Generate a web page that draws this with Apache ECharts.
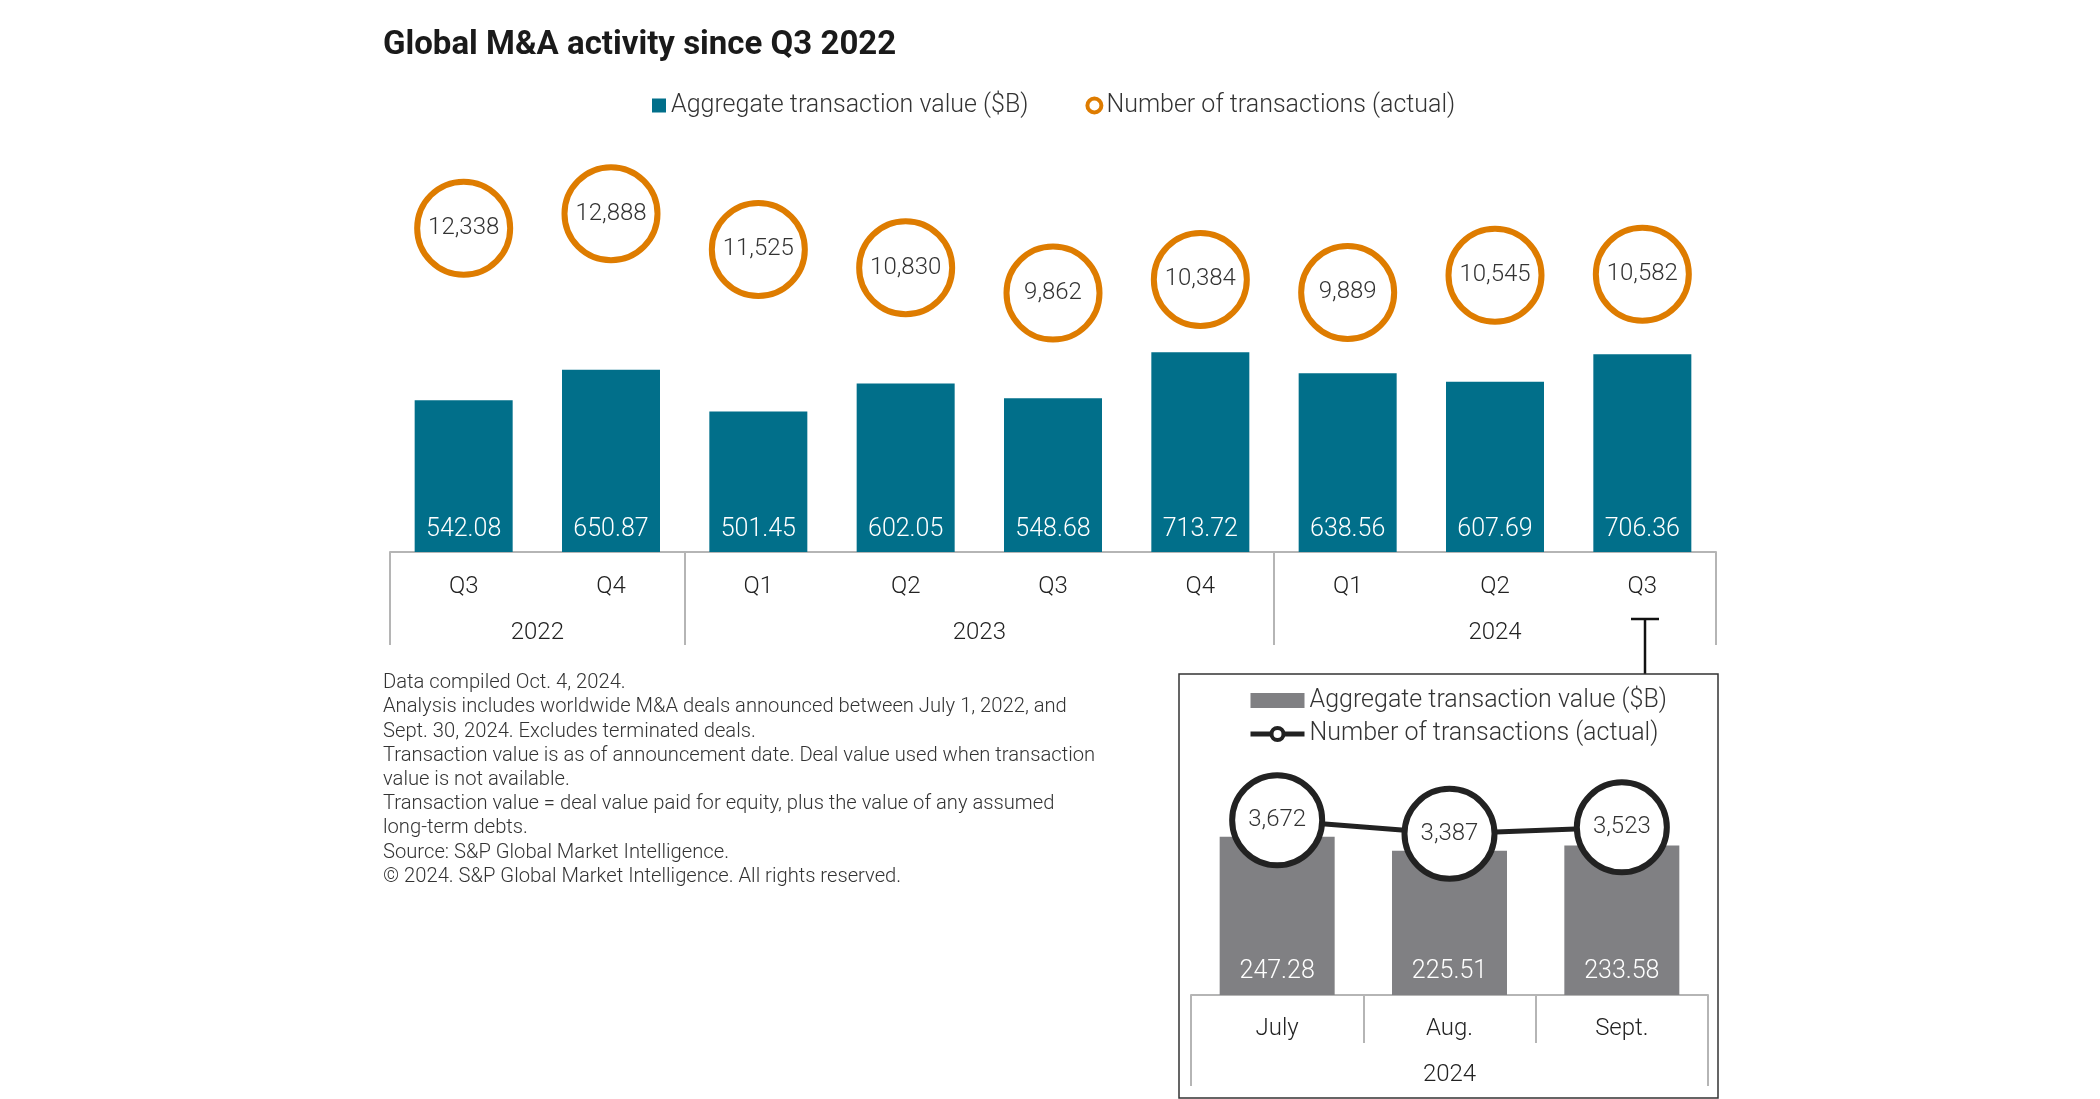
<!DOCTYPE html>
<html>
<head>
<meta charset="utf-8">
<script src="https://cdn.jsdelivr.net/npm/echarts@6/dist/echarts.min.js"></script>
<style>
html,body{margin:0;padding:0;background:#fff;}
#c{width:2100px;height:1099px;}
</style>
</head>
<body>
<div id="c"></div>
<script>
// ---------- data ----------
const quarters = ['Q3','Q4','Q1','Q2','Q3','Q4','Q1','Q2','Q3'];
const years = ['2022','2023','2024'];
const yearSpans = [2,4,3];
const aggValue = [542.08,650.87,501.45,602.05,548.68,713.72,638.56,607.69,706.36];
const txCount = [12338,12888,11525,10830,9862,10384,9889,10545,10582];

const months = ['July','Aug.','Sept.'];
const insetYear = ['2024'];
const monthValue = [247.28,225.51,233.58];
const monthCount = [3672,3387,3523];

const title = 'Global M&A activity since Q3 2022';
const seriesNames = ['Aggregate transaction value ($B)','Number of transactions (actual)'];
const footnotes = [
  'Data compiled Oct. 4, 2024.',
  'Analysis includes worldwide M&A deals announced between July 1, 2022, and',
  'Sept. 30, 2024. Excludes terminated deals.',
  'Transaction value is as of announcement date. Deal value used when transaction',
  'value is not available.',
  'Transaction value = deal value paid for equity, plus the value of any assumed',
  'long-term debts.',
  'Source: S&P Global Market Intelligence.',
  '\u00A9 2024. S&P Global Market Intelligence. All rights reserved.'
];

// ---------- derived helpers ----------
const bounds = [0];
yearSpans.forEach(s => bounds.push(bounds[bounds.length-1] + s));
const yearCenters = yearSpans.map((s,i) => bounds[i] + s/2);
const insetBounds = [0, months.length];
const insetCenters = [months.length/2];

const TEAL = '#016F8A', ORANGE = '#DE7C00', GRAY = '#808083', DARK = '#222222';
const AXIS_GRAY = '#b5b5b5';
const FONT = 'Roboto';
const fmt = v => Number(v).toLocaleString('en-US');
const INSET = 'inset:';

const chart = echarts.init(document.getElementById('c'));
chart.setOption({
  backgroundColor: '#fff',
  textStyle: {fontFamily: FONT},
  animation: false,
  title: [
    {text: title, left: 383, top: 29, padding: 0,
     textStyle: {fontFamily: FONT, fontSize: 33, fontWeight: 'bold', color: '#1a1a1a'}},
    {text: footnotes.join('\n'), left: 383, top: 671, padding: 0,
     textStyle: {fontFamily: FONT, fontSize: 20.2, fontWeight: 300, color: '#333', lineHeight: 24.2}}
  ],
  legend: [
    {left: 652, top: 93, padding: 0, itemGap: 57, itemWidth: 14, itemHeight: 14,
     selectedMode: false,
     textStyle: {fontFamily: FONT, fontSize: 25, fontWeight: 300, color: '#333'},
     data: [
       {name: seriesNames[0], icon: 'rect'},
       {name: seriesNames[1], icon: 'circle', itemStyle: {color: '#fff', borderColor: ORANGE, borderWidth: 4}}
     ]},
    {left: 1248, top: 688, padding: 0, orient: 'vertical', itemGap: 8.5, itemWidth: 54, itemHeight: 15,
     selectedMode: false,
     formatter: n => n.replace(INSET, ''),
     textStyle: {fontFamily: FONT, fontSize: 25, fontWeight: 300, color: '#333'},
     data: [
       {name: INSET + seriesNames[0], icon: 'rect'},
       {name: INSET + seriesNames[1], itemStyle: {color: '#fff', borderColor: DARK, borderWidth: 4},
        lineStyle: {color: DARK, width: 5}}
     ]}
  ],
  grid: [
    {left: 390, top: 132, width: 1326, height: 420},
    {left: 1191, top: 739, width: 517, height: 256}
  ],
  xAxis: [
    {type: 'category', gridIndex: 0, data: quarters,
     axisLine: {lineStyle: {color: AXIS_GRAY, width: 2}},
     axisTick: {show: false},
     axisLabel: {margin: 23, fontSize: 24, fontWeight: 300, color: '#222'}},
    {type: 'value', gridIndex: 0, min: 0, max: bounds[bounds.length-1], position: 'bottom',
     axisLine: {show: false}, splitLine: {show: false},
     axisTick: {show: true, customValues: bounds, length: 93, lineStyle: {color: AXIS_GRAY, width: 2}},
     axisLabel: {customValues: yearCenters, margin: 69, fontSize: 24, fontWeight: 300, color: '#222',
                 formatter: v => years[yearCenters.indexOf(v)] || ''}},
    {type: 'category', gridIndex: 1, data: months,
     axisLine: {lineStyle: {color: AXIS_GRAY, width: 2}},
     axisTick: {show: true, length: 48, interval: 0, lineStyle: {color: AXIS_GRAY, width: 2}},
     axisLabel: {margin: 22, fontSize: 24, fontWeight: 300, color: '#222'}},
    {type: 'value', gridIndex: 1, min: 0, max: months.length, position: 'bottom',
     axisLine: {show: false}, splitLine: {show: false},
     axisTick: {show: true, customValues: insetBounds, length: 91, lineStyle: {color: AXIS_GRAY, width: 2}},
     axisLabel: {customValues: insetCenters, margin: 68, fontSize: 24, fontWeight: 300, color: '#222',
                 formatter: v => insetYear[insetCenters.indexOf(v)] || ''}}
  ],
  yAxis: [
    {type: 'value', gridIndex: 0, min: 0, max: 1500, show: false},
    {type: 'value', gridIndex: 0, min: 0, max: 16000, show: false},
    {type: 'value', gridIndex: 1, min: 0, max: 400, show: false},
    {type: 'value', gridIndex: 1, min: 0, max: 5380, show: false}
  ],
  series: [
    {name: seriesNames[0], type: 'bar', xAxisIndex: 0, yAxisIndex: 0, data: aggValue,
     barWidth: 98, itemStyle: {color: TEAL},
     label: {show: true, position: 'insideBottom', distance: 10, color: '#fff',
             fontSize: 25, fontWeight: 300, fontFamily: FONT}},
    {name: seriesNames[1], type: 'scatter', xAxisIndex: 0, yAxisIndex: 1, data: txCount,
     symbol: 'circle', symbolSize: 93,
     itemStyle: {color: '#fff', borderColor: ORANGE, borderWidth: 6, opacity: 1},
     label: {show: true, position: 'inside', color: '#333', fontSize: 24, fontWeight: 300,
             fontFamily: FONT, formatter: p => fmt(p.value)}},
    {name: INSET + seriesNames[0], type: 'bar', xAxisIndex: 2, yAxisIndex: 2, data: monthValue,
     barWidth: 115, itemStyle: {color: GRAY},
     label: {show: true, position: 'insideBottom', distance: 11, color: '#fff',
             fontSize: 25, fontWeight: 300, fontFamily: FONT}},
    {name: INSET + seriesNames[1], type: 'line', xAxisIndex: 2, yAxisIndex: 3, data: monthCount,
     z: 5, symbol: 'circle', symbolSize: 90, showAllSymbol: true,
     lineStyle: {color: DARK, width: 5},
     itemStyle: {color: '#fff', borderColor: DARK, borderWidth: 6},
     label: {show: true, position: 'inside', color: '#333', fontSize: 24, fontWeight: 300,
             fontFamily: FONT, formatter: p => fmt(p.value)}}
  ],
  graphic: [
    {type: 'rect', shape: {x: 1179, y: 674, width: 539, height: 424},
     style: {fill: 'none', stroke: '#333', lineWidth: 1.5}, z: 1},
    {type: 'line', shape: {x1: 1631, y1: 619, x2: 1659, y2: 619},
     style: {stroke: '#111', lineWidth: 2.5}},
    {type: 'line', shape: {x1: 1645, y1: 619, x2: 1645, y2: 674},
     style: {stroke: '#111', lineWidth: 2.5}}
  ]
});
</script>
</body>
</html>
